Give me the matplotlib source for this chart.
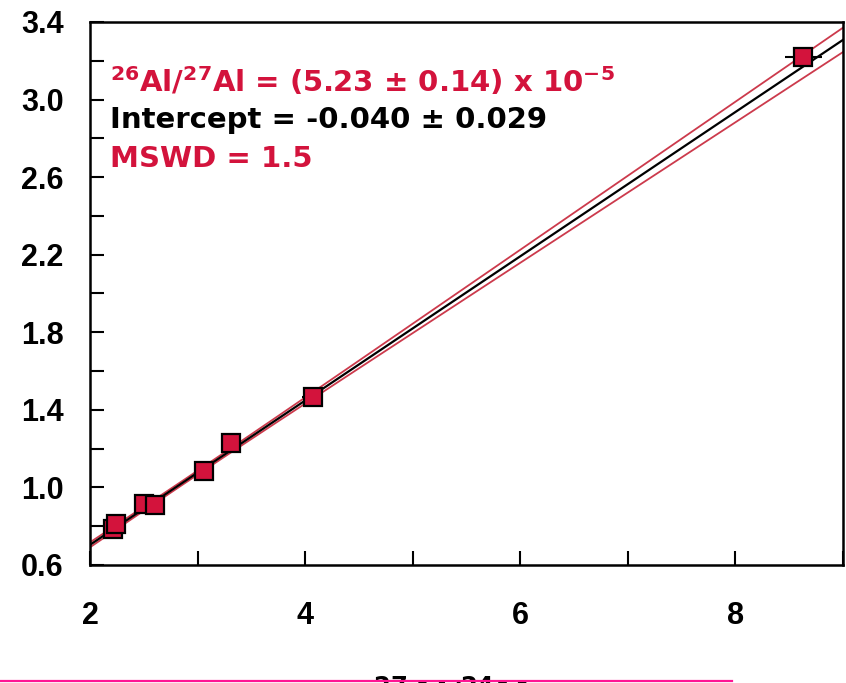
import matplotlib.pyplot as plt
import numpy as np
from matplotlib.lines import Line2D

# isochron data: 27Al/24Mg vs 26Mg excess
al_mg = [2.21, 2.24, 2.50, 2.60, 3.06, 3.31, 4.07, 8.63]
mg_excess = [0.785, 0.81, 0.912, 0.908, 1.085, 1.229, 1.466, 3.219]
al_mg_err = [0.05, 0.05, 0.06, 0.06, 0.06, 0.07, 0.10, 0.17]

slope = 0.372
slope_err = 0.0100
intercept = -0.040
pivot_x = 2.8
pivot_err = 0.010

red = '#d3133c'

fig = plt.figure(figsize=(8.46, 6.83), dpi=100)
ax = fig.add_axes([0.1064, 0.1728, 0.8901, 0.795])

xs = np.linspace(2, 9.2, 200)
fit = intercept + slope * xs
band = np.sqrt(pivot_err**2 + (slope_err * (xs - pivot_x))**2)
ax.plot(xs, fit + band, color='#cc3a4c', lw=1.3, zorder=2)
ax.plot(xs, fit - band, color='#cc3a4c', lw=1.3, zorder=2)
ax.plot(xs, fit, color='black', lw=1.6, zorder=3)

ax.errorbar(al_mg, mg_excess, xerr=al_mg_err, fmt='s', ms=13,
            mfc=red, mec='black', mew=1.6, ecolor='black', elinewidth=1.5,
            capsize=0, zorder=4)

ax.set_xlim(2, 9)
ax.set_ylim(0.6, 3.4)
ax.set_xticks([2, 4, 6, 8])
ax.set_xticks([3, 5, 7, 9], minor=True)
ax.set_yticks([0.6, 1.0, 1.4, 1.8, 2.2, 2.6, 3.0, 3.4])
ax.set_yticks(np.arange(0.8, 3.3, 0.4), minor=True)
ax.tick_params(which='both', direction='in', length=10, width=1.5)
ax.tick_params(axis='y', pad=19)
ax.tick_params(axis='x', pad=26)
for lab in ax.get_xticklabels() + ax.get_yticklabels():
    lab.set_fontfamily('Liberation Sans')
    lab.set_fontweight('bold')
    lab.set_fontsize(22)
for sp in ax.spines.values():
    sp.set_linewidth(1.8)

txt = dict(transform=ax.transAxes, fontsize=21, fontweight='bold',
           family='DejaVu Sans', va='baseline')
ax.text(0.027, 0.871,
        r'$\mathbf{^{26}}$Al/$\mathbf{^{27}}$Al = (5.23 ± 0.14) x 10$\mathbf{^{-5}}$',
        color=red, **txt)
ax.text(0.027, 0.805, 'Intercept = -0.040 ± 0.029', color='black', **txt)
ax.text(0.027, 0.733, 'MSWD = 1.5', color=red, **txt)

# axis title, mostly below the bottom edge
fig.text(373 / 846, 1 - 675 / 683, r'$\mathbf{^{27}}$Al/$\mathbf{^{24}}$Mg',
         fontsize=25, fontweight='bold', family='DejaVu Sans',
         ha='left', va='top')

fig.add_artist(Line2D([0, 732 / 846], [2 / 683, 2 / 683],
                      transform=fig.transFigure, color='#ff1493', lw=1.6,
                      zorder=10))

fig.savefig('out.png', dpi=100)
